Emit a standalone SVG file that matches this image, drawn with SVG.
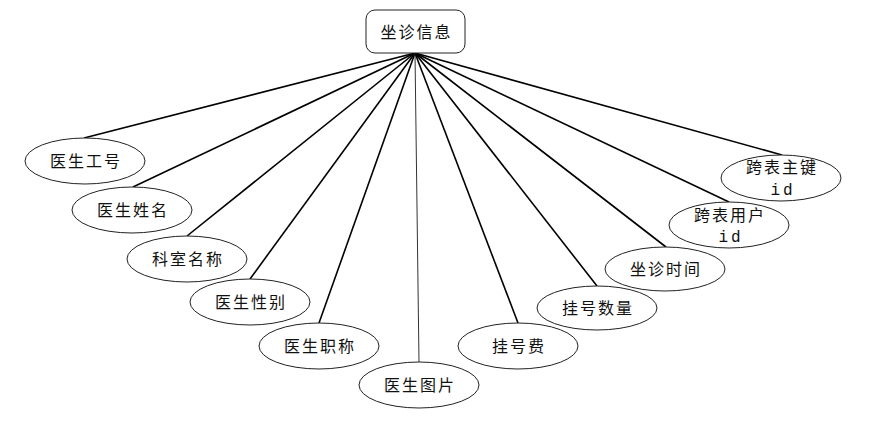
<svg xmlns="http://www.w3.org/2000/svg" width="884" height="425" viewBox="0 0 884 425">
<style>
.e{fill:#fff;stroke:#222;stroke-width:1}
.t{font-family:"Noto Sans CJK SC","Liberation Serif",serif;font-size:16px;fill:#111;text-anchor:middle;letter-spacing:2px}
.m{font-family:"Liberation Mono",monospace;font-size:16px;fill:#111;text-anchor:middle;letter-spacing:3px}
.c line{stroke:#000;stroke-width:1.6}
</style>
<rect width="884" height="425" fill="#fff"/>
<g class="c" id="connectors">
<line x1="415" y1="53" x2="84" y2="138"/>
<line x1="415" y1="53" x2="133" y2="187"/>
<line x1="415" y1="53" x2="187" y2="236"/>
<line x1="415" y1="53" x2="250" y2="279"/>
<line x1="415" y1="53" x2="319" y2="323"/>
<line x1="415" y1="53" x2="419" y2="362" style="stroke-width:1;stroke:#333"/>
<line x1="415" y1="53" x2="518" y2="323"/>
<line x1="415" y1="53" x2="597" y2="286"/>
<line x1="415" y1="53" x2="666" y2="247"/>
<line x1="415" y1="53" x2="729" y2="202"/>
<line x1="415" y1="53" x2="782" y2="155"/>
</g>
<g id="root"><rect x="366" y="10" width="99" height="43" rx="9" fill="#fff" stroke="#222" stroke-width="1"/><text class="t" x="416.5" y="38">坐诊信息</text></g>
<g id="n1"><ellipse class="e" cx="85" cy="161" rx="60" ry="23"/><text class="t" x="86" y="167">医生工号</text></g>
<g id="n2"><ellipse class="e" cx="132" cy="210" rx="60" ry="23"/><text class="t" x="133" y="216">医生姓名</text></g>
<g id="n3"><ellipse class="e" cx="187" cy="259" rx="60" ry="23"/><text class="t" x="188" y="265">科室名称</text></g>
<g id="n4"><ellipse class="e" cx="250" cy="302" rx="60" ry="23"/><text class="t" x="251" y="308">医生性别</text></g>
<g id="n5"><ellipse class="e" cx="319" cy="346" rx="60" ry="23"/><text class="t" x="320" y="352">医生职称</text></g>
<g id="n6"><ellipse class="e" cx="419" cy="385" rx="60" ry="23"/><text class="t" x="420" y="391">医生图片</text></g>
<g id="n7"><ellipse class="e" cx="518" cy="346" rx="60" ry="23"/><text class="t" x="519" y="352">挂号费</text></g>
<g id="n8"><ellipse class="e" cx="597" cy="308" rx="60" ry="22"/><text class="t" x="598" y="314">挂号数量</text></g>
<g id="n9"><ellipse class="e" cx="665" cy="269" rx="60" ry="22"/><text class="t" x="666" y="275">坐诊时间</text></g>
<g id="n10"><ellipse class="e" cx="729" cy="225" rx="60" ry="23"/><text class="t" x="730" y="221">跨表用户</text><text class="m" x="731" y="242">id</text></g>
<g id="n11"><ellipse class="e" cx="781" cy="178" rx="60" ry="23"/><text class="t" x="782" y="173">跨表主键</text><text class="m" x="783" y="195">id</text></g>
</svg>
